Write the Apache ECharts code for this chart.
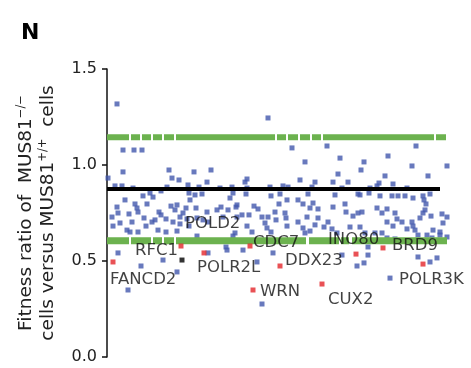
<!DOCTYPE html>
<html><head><meta charset="utf-8">
<script src="https://cdn.jsdelivr.net/npm/echarts@6/dist/echarts.min.js"></script>
<style>html,body{margin:0;padding:0;background:#fff}#c{width:471px;height:368px}</style>
</head><body><div id="c"></div>
<script>
// gene index (screen order) and fitness ratio MUS81-/- vs MUS81+/+
const screenPoints = [
[10,1.318],[16,1.078],[27,1.078],[35,1.078],[1,0.932],[16,0.964],[62,0.974],[65,0.932],[72,0.922],
[8,0.891],[15,0.891],[26,0.880],[60,0.885],[81,0.896],[18,0.818],[10,0.781],[28,0.797],[36,0.839],
[40,0.797],[43,0.854],[46,0.833],[54,0.865],[64,0.786],[82,0.854],[83,0.818],[5,0.729],[22,0.745],
[30,0.776],[31,0.755],[52,0.755],[54,0.740],[68,0.766],[70,0.792],[76,0.750],[79,0.776],[13,0.698],
[25,0.703],[6,0.682],[37,0.724],[45,0.703],[48,0.714],[59,0.719],[66,0.703],[20,0.661],[23,0.651],
[31,0.651],[39,0.682],[51,0.661],[59,0.651],[73,0.693],[73,0.729],[80,0.719],[82,0.682],[70,0.656],
[11,0.750],[11,0.542],[34,0.474],[56,0.505],[70,0.443],[21,0.349],
[87,0.964],[104,0.974],[100,0.911],[140,0.927],[138,0.911],[92,0.885],[113,0.880],[125,0.885],
[140,0.880],[163,0.885],[161,1.245],[176,0.891],[95,0.849],[88,0.844],[123,0.828],[126,0.854],
[129,0.781],[139,0.849],[147,0.786],[164,0.839],[173,0.849],[172,0.797],[151,0.771],[121,0.766],
[89,0.776],[100,0.755],[110,0.766],[114,0.781],[90,0.724],[96,0.714],[101,0.703],[116,0.729],
[130,0.729],[135,0.740],[142,0.740],[155,0.729],[161,0.729],[168,0.755],[169,0.714],[178,0.750],
[145,0.651],[160,0.672],[164,0.651],[128,0.646],[90,0.630],[119,0.573],[126,0.630],[140,0.682],
[158,0.698],[180,0.682],[130,0.792],[101,0.542],[120,0.557],[136,0.557],[150,0.495],[166,0.542],
[155,0.276],[180,0.818],
[185,1.089],[220,1.099],[198,1.016],[233,1.036],[254,0.974],[231,0.953],[193,0.922],[208,0.911],
[226,0.911],[241,0.911],[181,0.885],[205,0.885],[235,0.880],[191,0.818],[196,0.797],[201,0.849],
[203,0.776],[211,0.771],[228,0.844],[238,0.797],[251,0.849],[179,0.724],[200,0.729],[211,0.724],
[221,0.703],[239,0.755],[246,0.734],[196,0.672],[203,0.656],[208,0.688],[217,0.677],[225,0.667],
[206,0.802],[226,0.781],[251,0.750],[243,0.677],[253,0.677],[191,0.703],[198,0.646],[230,0.646],
[235,0.531],[261,0.531],[257,0.490],[250,0.474],
[257,1.016],[281,1.047],[305,0.995],[340,0.995],[309,1.099],[321,0.943],[278,0.943],[286,0.901],
[263,0.880],[270,0.891],[272,0.906],[300,0.880],[253,0.844],[262,0.854],[273,0.839],[285,0.839],
[291,0.839],[298,0.839],[306,0.828],[316,0.839],[317,0.818],[319,0.797],[323,0.849],[318,0.766],
[270,0.776],[280,0.771],[288,0.750],[290,0.719],[295,0.703],[280,0.703],[286,0.682],[305,0.703],
[313,0.724],[324,0.734],[335,0.745],[340,0.729],[300,0.667],[306,0.682],[326,0.661],[333,0.651],
[255,0.755],[258,0.646],[268,0.646],[275,0.646],[275,0.750],[308,0.661],[316,0.750],[336,0.698],
[311,0.635],[320,0.635],[325,0.620],[333,0.635],[340,0.625],[261,0.573],[280,0.620],[288,0.615],
[311,0.521],[323,0.495],[330,0.516],[283,0.411]
];
const hitNames  = ['FANCD2','POLD2','POLR2L','CDC7','DDX23','WRN','INO80','CUX2','BRD9','POLR3K'];
const hitValues = [[6,0.495],[74,0.578],[97,0.542],[143,0.578],[173,0.474],[146,0.349],[249,0.536],[215,0.380],[276,0.568],[316,0.484]];
const controlNames  = ['RFC1'];
const controlValues = [[75,0.505]];
const yTicks = [0.0, 0.5, 1.0, 1.5];
const upperThreshold = 1.145;
const meanRatio = 0.875;
const lowerThreshold = 0.605;
const geneSpan = [0, 340];
const meanSpan = [0, 333];

// label placement (style): offset of text start from the point, px
const labelOffset = {FANCD2:[-3,18],POLD2:[4,-22],RFC1:[-47,-9],POLR2L:[-7,15],CDC7:[3,-3],
  DDX23:[5,-5],WRN:[7,2],INO80:[-28,-14],CUX2:[6,16],BRD9:[9,-2],POLR3K:[-24,16]};

const FONT = 'DejaVu Sans';
function labelled(names, values){
  return values.map((v,i)=>({name:names[i], value:v,
    label:{show:true, position:'inside', align:'left', verticalAlign:'middle',
      offset:labelOffset[names[i]], formatter:'{b}', color:'#111', fontSize:16.5, fontFamily:FONT}}));
}
function hline(y, span){ return [[span[0], y],[span[1], y]]; }

const chart = echarts.init(document.getElementById('c'), null, {renderer:'canvas'});
chart.setOption({
  animation:false,
  backgroundColor:'#fff',
  title:{text:'N', left:16, top:17, textStyle:{fontSize:22, fontWeight:'bold', color:'#000', fontFamily:FONT}},
  grid:{left:107, right:24, top:69, bottom:11},
  xAxis:{type:'value', min:geneSpan[0], max:geneSpan[1], show:false},
  yAxis:{type:'value', min:yTicks[0], max:yTicks[yTicks.length-1], interval:0.5,
    axisLine:{show:true, lineStyle:{color:'#111', width:1.5}},
    axisTick:{show:true, length:5, lineStyle:{color:'#111', width:1.5}},
    splitLine:{show:false},
    axisLabel:{margin:10, color:'#222', fontSize:16, fontFamily:FONT, formatter:v=>v.toFixed(1)},
    name:'{a|Fitness ratio of  MUS81}{s|−/−}\n{a|cells versus MUS81}{s|+/+}{a|  cells}',
    nameLocation:'middle', nameRotate:90, nameGap:48,
    nameTextStyle:{rich:{
      a:{fontSize:18.5, fontFamily:FONT, color:'#222', lineHeight:22},
      s:{fontSize:11.5, fontFamily:FONT, color:'#222', lineHeight:22, verticalAlign:'top', padding:[0,0,7,0]}
    }}
  },
  series:[
    {type:'scatter', data:screenPoints, symbol:'rect', symbolSize:5, itemStyle:{color:'#4257ad'}, z:2, silent:true},
    {type:'line', data:hline(upperThreshold, geneSpan), symbol:'none', z:3, silent:true,
      lineStyle:{color:'#6cb24f', width:6, type:[22,2,9,2,9,2,9,2,10,2,99,2,9,2,10,2,10,2,9,2,111,2,10], cap:'butt'}},
    {type:'line', data:hline(lowerThreshold, geneSpan), symbol:'none', z:3, silent:true,
      lineStyle:{color:'#6cb24f', width:7, type:[22,2,20,2,9,2,10,2,130,3,30,2,8,3,120], cap:'butt'}},
    {type:'line', data:hline(meanRatio, meanSpan), symbol:'none', z:4, silent:true,
      lineStyle:{color:'#000', width:4}},
    {type:'scatter', data:labelled(controlNames, controlValues), symbol:'rect', symbolSize:5, itemStyle:{color:'#000'}, z:5, silent:true},
    {type:'scatter', data:labelled(hitNames, hitValues), symbol:'rect', symbolSize:5, itemStyle:{color:'#e3262a'}, z:5, silent:true}
  ]
});
</script></body></html>
